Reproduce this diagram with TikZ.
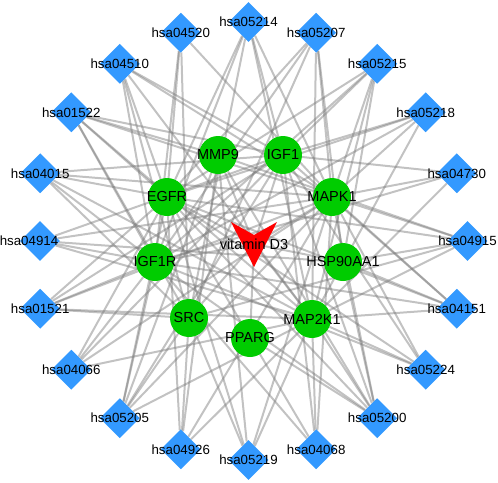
\documentclass[tikz,border=0pt]{standalone}
\usepackage{fontspec}
\setmainfont{Liberation Sans}
\usetikzlibrary{shapes.geometric}
\pgfdeclarelayer{background}
\pgfsetlayers{background,main}
\definecolor{pathblue}{RGB}{51,153,255}
\definecolor{genegreen}{RGB}{0,204,0}
\definecolor{edgegray}{RGB}{120,120,120}

\begin{document}
\begin{tikzpicture}[x=1pt, y=-1pt,
    pathway/.style={diamond, fill=pathblue, minimum size=40pt, inner sep=0pt},
    gene/.style={circle, fill=genegreen, minimum size=38pt, inner sep=0pt},
    hsalabel/.style={font=\fontsize{13.3}{14}\selectfont, inner sep=0pt},
    genelabel/.style={font=\fontsize{14.5}{15}\selectfont, inner sep=0pt},
    edge/.style={edgegray, line width=2pt, opacity=0.45}]
    \useasboundingbox (0,0) rectangle (498,482);

    % pathways (outer ring)
    \node[pathway, label={[hsalabel]center:hsa05214}] (p05214) at (248.5, 22) {};
    \node[pathway, label={[hsalabel]center:hsa04520}] (p04520) at (180.8, 32.7) {};
    \node[pathway, label={[hsalabel]center:hsa04510}] (p04510) at (119.8, 63.8) {};
    \node[pathway, label={[hsalabel]center:hsa01522}] (p01522) at (71.3, 112.3) {};
    \node[pathway, label={[hsalabel]center:hsa04015}] (p04015) at (40.2, 173.3) {};
    \node[pathway, label={[hsalabel, xshift=-11pt]center:hsa04914}] (p04914) at (40, 241) {};
    \node[pathway, label={[hsalabel]center:hsa01521}] (p01521) at (40.2, 308.7) {};
    \node[pathway, label={[hsalabel]center:hsa04066}] (p04066) at (71.3, 369.7) {};
    \node[pathway, label={[hsalabel]center:hsa05205}] (p05205) at (119.8, 418.2) {};
    \node[pathway, label={[hsalabel]center:hsa04926}] (p04926) at (180.8, 449.3) {};
    \node[pathway, label={[hsalabel]center:hsa05219}] (p05219) at (248.5, 460) {};
    \node[pathway, label={[hsalabel]center:hsa04068}] (p04068) at (316.2, 449.3) {};
    \node[pathway, label={[hsalabel]center:hsa05200}] (p05200) at (377.2, 418.2) {};
    \node[pathway, label={[hsalabel]center:hsa05224}] (p05224) at (425.7, 369.7) {};
    \node[pathway, label={[hsalabel]center:hsa04151}] (p04151) at (456.8, 308.7) {};
    \node[pathway, label={[hsalabel]center:hsa04915}] (p04915) at (467.5, 241) {};
    \node[pathway, label={[hsalabel]center:hsa04730}] (p04730) at (456.8, 173.3) {};
    \node[pathway, label={[hsalabel]center:hsa05218}] (p05218) at (425.7, 112.3) {};
    \node[pathway, label={[hsalabel]center:hsa05215}] (p05215) at (377.2, 63.8) {};
    \node[pathway, label={[hsalabel]center:hsa05207}] (p05207) at (316.2, 32.7) {};

    % targets (inner ring)
    \node[gene, label={[genelabel]center:MMP9}] (mmp9) at (218, 155) {};
    \node[gene, label={[genelabel]center:IGF1}] (igf1) at (283, 155) {};
    \node[gene, label={[genelabel]center:EGFR}] (egfr) at (167, 197) {};
    \node[gene, label={[genelabel]center:MAPK1}] (mapk1) at (332, 197) {};
    \node[gene, label={[genelabel]center:IGF1R}] (igf1r) at (155, 262) {};
    \node[gene, label={[genelabel]center:HSP90AA1}] (hsp) at (343, 262) {};
    \node[gene, label={[genelabel]center:SRC}] (src) at (189, 318) {};
    \node[gene, label={[genelabel]center:MAP2K1}] (map2k1) at (312, 319) {};
    \node[gene, label={[genelabel]center:PPARG}] (pparg) at (250, 338) {};

    % vitamin D3
    \coordinate (vd) at (254, 244);
    \fill[red, shift={(vd)}] (-23,-22) -- (0,-9) -- (23,-22) -- (0,23) -- cycle;
    \node[genelabel] (vdtext) at (vd) {vitamin D3};

    \begin{pgfonlayer}{background}
        \foreach \t in {mmp9,igf1,egfr,mapk1,igf1r,hsp,src,map2k1,pparg}
            \draw[edge] (vd) -- (\t);
        \foreach \t in {egfr,igf1,igf1r,mapk1,map2k1,src}
            \draw[edge] (p05214) -- (\t);
        \foreach \t in {egfr,igf1r,mapk1,src}
            \draw[edge] (p04520) -- (\t);
        \foreach \t in {egfr,igf1,igf1r,mapk1,map2k1,src}
            \draw[edge] (p04510) -- (\t);
        \foreach \t in {egfr,igf1,igf1r,mapk1,map2k1,mmp9,src}
            \draw[edge] (p01522) -- (\t);
        \foreach \t in {egfr,igf1,igf1r,mapk1,map2k1,src}
            \draw[edge] (p04015) -- (\t);
        \foreach \t in {hsp,igf1,igf1r,mapk1,map2k1}
            \draw[edge] (p04914) -- (\t);
        \foreach \t in {egfr,igf1,igf1r,mapk1,map2k1,src}
            \draw[edge] (p01521) -- (\t);
        \foreach \t in {egfr,igf1,igf1r,mapk1,map2k1}
            \draw[edge] (p04066) -- (\t);
        \foreach \t in {egfr,igf1,igf1r,mapk1,map2k1,mmp9,src}
            \draw[edge] (p05205) -- (\t);
        \foreach \t in {egfr,mapk1,map2k1,mmp9,src}
            \draw[edge] (p04926) -- (\t);
        \foreach \t in {egfr,mapk1,map2k1,mmp9,src}
            \draw[edge] (p05219) -- (\t);
        \foreach \t in {egfr,igf1,igf1r,mapk1,map2k1}
            \draw[edge] (p04068) -- (\t);
        \foreach \t in {egfr,hsp,igf1,igf1r,mapk1,map2k1,mmp9,pparg}
            \draw[edge] (p05200) -- (\t);
        \foreach \t in {egfr,igf1,igf1r,mapk1,map2k1}
            \draw[edge] (p05224) -- (\t);
        \foreach \t in {egfr,hsp,igf1,igf1r,mapk1,map2k1}
            \draw[edge] (p04151) -- (\t);
        \foreach \t in {egfr,hsp,mapk1,map2k1,mmp9,src}
            \draw[edge] (p04915) -- (\t);
        \foreach \t in {igf1,igf1r,mapk1,map2k1}
            \draw[edge] (p04730) -- (\t);
        \foreach \t in {egfr,igf1,igf1r,mapk1,map2k1}
            \draw[edge] (p05218) -- (\t);
        \foreach \t in {egfr,hsp,igf1,igf1r,mapk1,map2k1}
            \draw[edge] (p05215) -- (\t);
        \foreach \t in {egfr,hsp,igf1r,mapk1,map2k1,src}
            \draw[edge] (p05207) -- (\t);
    \end{pgfonlayer}
\end{tikzpicture}
\end{document}
